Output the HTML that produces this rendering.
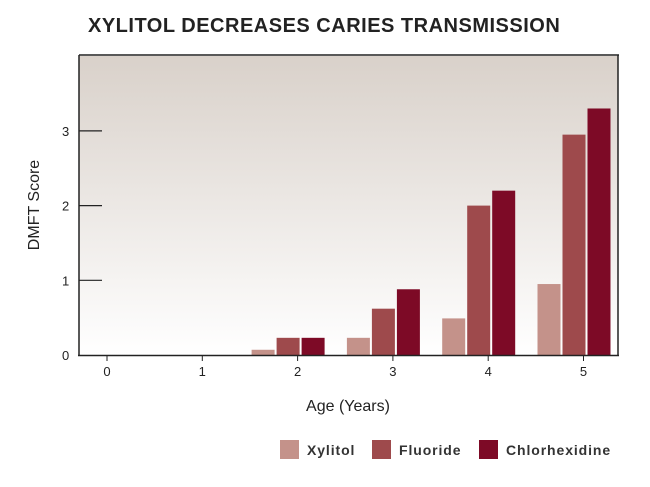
<!DOCTYPE html>
<html><head><meta charset="utf-8"><style>
body{margin:0;background:#fff;width:650px;height:482px;overflow:hidden;font-family:"Liberation Sans",sans-serif}
</style></head><body>
<svg width="650" height="482" xmlns="http://www.w3.org/2000/svg">
<defs><linearGradient id="bg" x1="0" y1="0" x2="0" y2="1"><stop offset="0" stop-color="#d9d1ca"/><stop offset="1" stop-color="#ffffff"/></linearGradient></defs>
<text x="88" y="32" font-size="20" font-weight="bold" fill="#222" letter-spacing="0.5">XYLITOL DECREASES CARIES TRANSMISSION</text>
<rect x="79" y="56" width="539" height="299" fill="url(#bg)"/>
<g id="bars"></g>
<line x1="79" y1="55" x2="619" y2="55" stroke="#222" stroke-width="1.5"/>
<line x1="618" y1="55" x2="618" y2="356" stroke="#222" stroke-width="1.5"/>
<line x1="79" y1="55" x2="79" y2="356" stroke="#222" stroke-width="1.5"/>
<line x1="78" y1="355.5" x2="619" y2="355.5" stroke="#222" stroke-width="1.5"/>
<g id="ticks"></g>
<text transform="translate(39,205) rotate(-90)" text-anchor="middle" font-size="16" fill="#222">DMFT Score</text>
<text x="348" y="411" text-anchor="middle" font-size="16" fill="#222">Age (Years)</text>
<g font-size="14" font-weight="bold" fill="#333" letter-spacing="0.9">
<rect x="280" y="440" width="19" height="19" fill="#c4928a"/>
<text x="307" y="455">Xylitol</text>
<rect x="372" y="440" width="19" height="19" fill="#9e4a4c"/>
<text x="399" y="455">Fluoride</text>
<rect x="479" y="440" width="19" height="19" fill="#7d0a26"/>
<text x="506" y="455">Chlorhexidine</text>
</g>
</svg>
<script>
const categories=["0","1","2","3","4","5"];
const xylitol=[0,0,0.07,0.23,0.49,0.95];
const fluoride=[0,0,0.23,0.62,2.0,2.95];
const chlorhexidine=[0,0,0.23,0.88,2.2,3.3];
const yTicks=[0,1,2,3];
const NS="http://www.w3.org/2000/svg";
const y=v=>355-v*74.7;
const cx=i=>97+i*95.3;
const bars=document.getElementById('bars');
const series=[[xylitol,"#c4928a","xylitol",-36],[fluoride,"#9e4a4c","fluoride",-11],[chlorhexidine,"#7d0a26","chlorhexidine",14]];
series.forEach(s=>{
  s[0].forEach((v,i)=>{
    if(v<=0)return;
    const r=document.createElementNS(NS,'rect');
    r.setAttribute('x',cx(i)+s[3]);r.setAttribute('width',23);
    r.setAttribute('y',y(v));r.setAttribute('height',355-y(v));
    r.setAttribute('fill',s[1]);
    
    
    bars.appendChild(r);
  });
});
const tk=document.getElementById('ticks');
yTicks.forEach(t=>{
  if(t>0){const l=document.createElementNS(NS,'line');
  l.setAttribute('x1',79);l.setAttribute('x2',102);l.setAttribute('y1',y(t));l.setAttribute('y2',y(t));
  l.setAttribute('stroke','#222');l.setAttribute('stroke-width','1.2');
  
  
  tk.appendChild(l);}
  const tx=document.createElementNS(NS,'text');
  tx.setAttribute('x',62);tx.setAttribute('y',y(t)+5);tx.setAttribute('font-size','13');tx.setAttribute('fill','#222');
  tx.textContent=t;
  
  
  tk.appendChild(tx);
});
categories.forEach((c,i)=>{
  const l=document.createElementNS(NS,'line');
  l.setAttribute('x1',cx(i)+10);l.setAttribute('x2',cx(i)+10);l.setAttribute('y1',355);l.setAttribute('y2',361);
  l.setAttribute('stroke','#222');
  
  
  tk.appendChild(l);
  const tx=document.createElementNS(NS,'text');
  tx.setAttribute('x',cx(i)+10);tx.setAttribute('y',376);tx.setAttribute('text-anchor','middle');
  tx.setAttribute('font-size','13');tx.setAttribute('fill','#222');tx.textContent=c;
  
  
  tk.appendChild(tx);
});
</script>
</body></html>
